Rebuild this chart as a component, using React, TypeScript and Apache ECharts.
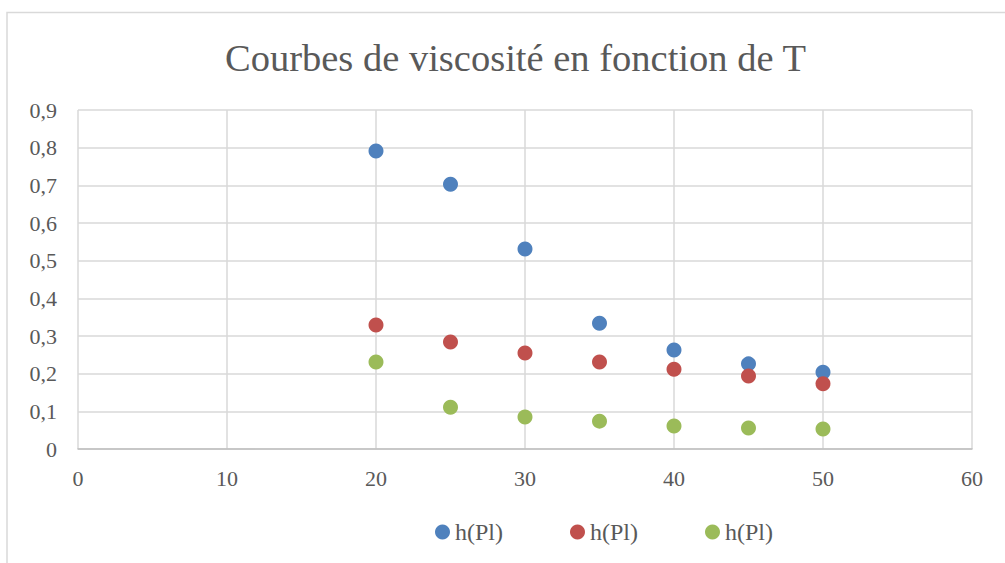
import React, { useEffect, useRef } from "react";
import * as echarts from "echarts";

const temperatures = [20, 25, 30, 35, 40, 45, 50];
const viscosityBlue = [0.791, 0.703, 0.531, 0.334, 0.263, 0.226, 0.204];
const viscosityRed = [0.329, 0.284, 0.255, 0.231, 0.212, 0.194, 0.173];
const viscosityGreen = [0.231, 0.111, 0.085, 0.074, 0.061, 0.056, 0.053];
const seriesNames = ["h(Pl)", "h(Pl) ", "h(Pl)  "];
const seriesColors = ["#4F81BD", "#C0504D", "#9BBB59"];
const titleText = "Courbes de viscosité en fonction de T";

const FONT = "'Liberation Serif', serif";
const TXT = "#595959";

export default function App() {
  const ref = useRef<HTMLDivElement>(null);
  useEffect(() => {
    document.body.style.margin = "0";
    const chart = echarts.init(ref.current!, null, { renderer: "svg" });
    const values = [viscosityBlue, viscosityRed, viscosityGreen];
    chart.setOption({
      animation: false,
      backgroundColor: "#ffffff",
      title: {
        text: titleText,
        left: 220,
        top: 33,
        textStyle: { fontFamily: FONT, fontSize: 38.5, fontWeight: "normal", color: TXT },
      },
      graphic: [
        {
          type: "polyline",
          shape: { points: [[7, 600], [7, 12.5], [1010, 12.5]] },
          style: { stroke: "#d9d9d9", lineWidth: 1.5, fill: "none" },
          silent: true,
        },
      ],
      legend: {
        left: 430,
        top: 515,
        itemWidth: 15,
        itemHeight: 15,
        itemGap: 67,
        icon: "circle",
        formatter: () => "h(Pl)",
        textStyle: { fontFamily: FONT, fontSize: 24, color: TXT },
        data: seriesNames,
      },
      grid: { left: 78, right: 33, top: 110, bottom: 114, containLabel: false },
      xAxis: {
        type: "value",
        min: 0,
        max: 60,
        interval: 10,
        axisLine: { show: true, lineStyle: { color: "#bfbfbf", width: 1.5 } },
        axisTick: { show: false },
        splitLine: { show: true, lineStyle: { color: "#d9d9d9", width: 1.5 } },
        axisLabel: { fontFamily: FONT, fontSize: 22, color: TXT, margin: 18 },
      },
      yAxis: {
        type: "value",
        min: 0,
        max: 0.9,
        interval: 0.1,
        axisLine: { show: false },
        axisTick: { show: false },
        splitLine: { show: true, lineStyle: { color: "#d9d9d9", width: 1.5 } },
        axisLabel: {
          fontFamily: FONT,
          fontSize: 22,
          color: TXT,
          margin: 21,
          formatter: (v: number) => (Math.round(v * 10) / 10).toString().replace(".", ","),
        },
      },
      series: values.map((vals, i) => ({
        name: seriesNames[i],
        type: "scatter",
        symbol: "circle",
        symbolSize: 15,
        itemStyle: { color: seriesColors[i], opacity: 1 },
        data: temperatures.map((t, j) => [t, vals[j]]),
      })),
    });
    return () => chart.dispose();
  }, []);
  return <div ref={ref} style={{ width: 1005, height: 563 }} />;
}
